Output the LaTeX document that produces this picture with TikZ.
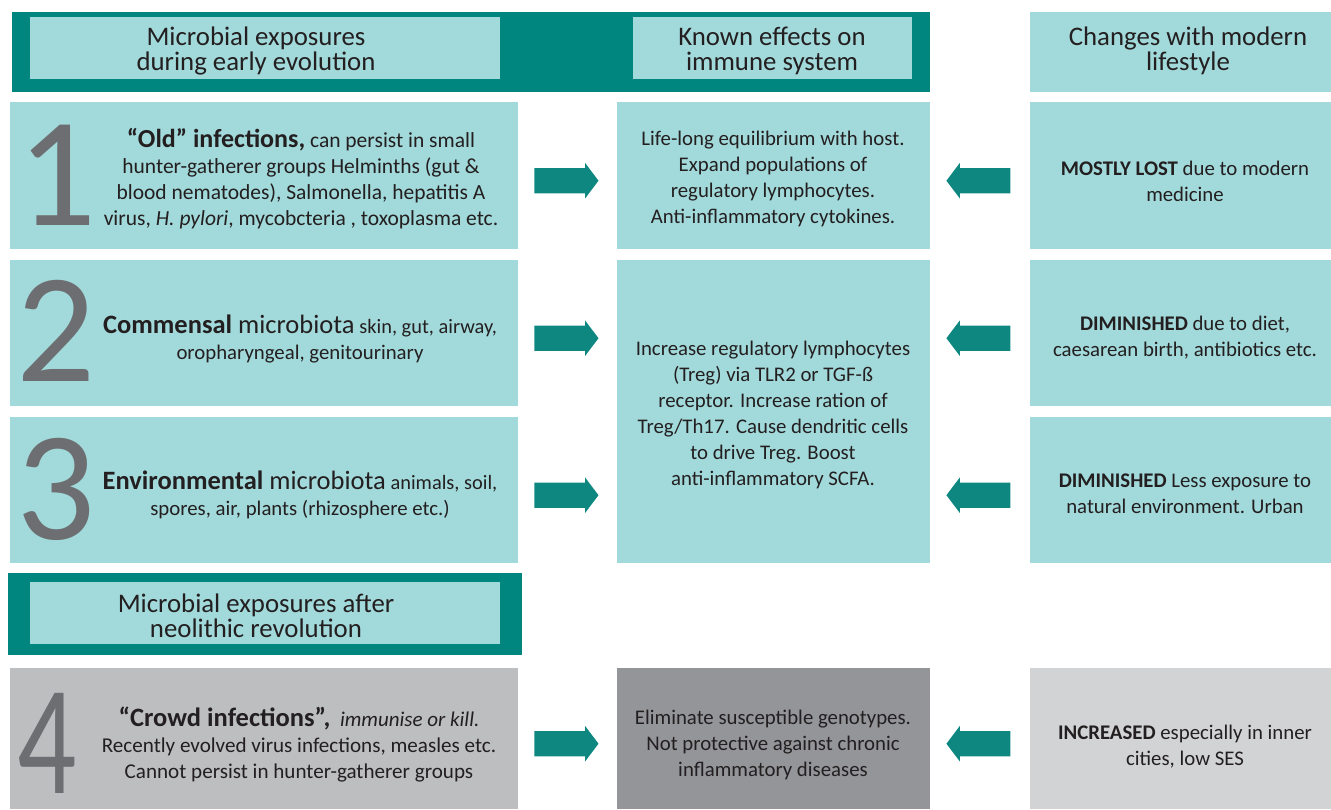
\documentclass[tikz,border=0pt]{standalone}
\usepackage{fontspec}
\setmainfont{Carlito}
\usetikzlibrary{shapes.arrows,calc}
\definecolor{darkteal}{HTML}{00857F}
\definecolor{paleteal}{HTML}{A2D9DA}
\definecolor{arrowteal}{HTML}{0E8780}
\definecolor{inkgray}{HTML}{231F20}
\definecolor{numgray}{HTML}{6D6E71}
\definecolor{stonegray}{HTML}{BCBEC0}
\definecolor{slategray}{HTML}{939598}
\definecolor{mistgray}{HTML}{D1D3D4}

\begin{document}
\begin{tikzpicture}[x=1pt,y=-1pt,
  bar/.style={fill=darkteal,inner sep=0pt,anchor=north west},
  box/.style={fill=paleteal,inner sep=0pt,anchor=north west},
  head/.style={align=center,text=inkgray,inner sep=0pt,
    font=\fontsize{26.8}{25.5}\selectfont},
  txt/.style={align=center,text=inkgray,inner sep=0pt,
    font=\fontsize{20.8}{26}\selectfont},
  note/.style={txt,font=\fontsize{20.8}{26}\selectfont},
  digit/.style={text=numgray,inner sep=0pt,font=\fontsize{156}{156}\selectfont},
  rarrow/.style={single arrow,fill=arrowteal,draw=none,inner xsep=0pt,
    inner ysep=12.5pt,minimum height=64pt,single arrow head extend=5pt,
    single arrow tip angle=106},
  larrow/.style={rarrow,shape border rotate=180}]
\useasboundingbox (0,0) rectangle (1331,809);

% headers
\node[bar,minimum width=918pt,minimum height=80pt] (bar1) at (12,12) {};
\node[box,minimum width=470pt,minimum height=62pt] (h1) at (30,17) {};
\node[box,minimum width=279pt,minimum height=62pt] (h2) at (633,17) {};
\node[box,minimum width=301pt,minimum height=80pt] (h3) at (1030,12) {};
\node[head] at (256,51) {Microbial exposures\\during early evolution};
\node[head] at (772,51) {Known effects on\\immune system};
\node[head] at (1188,51) {Changes with modern\\lifestyle};

% rows 1-3
\node[box,minimum width=508pt,minimum height=147pt] (l1) at (10,102) {};
\node[box,minimum width=508pt,minimum height=146pt] (l2) at (10,260) {};
\node[box,minimum width=508pt,minimum height=146pt] (l3) at (10,417) {};
\node[box,minimum width=313pt,minimum height=147pt] (m1) at (617,102) {};
\node[box,minimum width=313pt,minimum height=303pt] (m2) at (617,260) {};
\node[box,minimum width=301pt,minimum height=147pt] (r1) at (1030,102) {};
\node[box,minimum width=301pt,minimum height=146pt] (r2) at (1030,260) {};
\node[box,minimum width=301pt,minimum height=146pt] (r3) at (1030,417) {};

\node[digit] (n1) at (57,175) {1};
\node[digit] (n2) at (56,331) {2};
\node[digit] (n3) at (56,489) {3};

\node[txt,font=\fontsize{21.5}{26}\selectfont] (t1) at (301,179) {{\fontsize{26}{26}\selectfont\textbf{“Old” infections,}} can persist in small\\
  hunter-gatherer groups Helminths (gut \&\\
  blood nematodes), Salmonella, hepatitis A\\
  virus, \textit{H. pylori}, mycobcteria , toxoplasma etc.};
\node[txt] (t2) at (300,339) {{\fontsize{26.5}{26}\selectfont\textbf{Commensal} microbiota} {\fontsize{20.4}{26}\selectfont skin, gut, airway,}\\
  oropharyngeal, genitourinary};
\node[txt] (t3) at (300,495) {{\fontsize{26.5}{26}\selectfont\textbf{Environmental} microbiota} {\fontsize{20.4}{26}\selectfont animals, soil,}\\
  spores, air, plants (rhizosphere etc.)};

\node[note] (e1) at (773,179) {Life-long equilibrium with host.\\
  Expand populations of\\regulatory lymphocytes.\\Anti-inflammatory cytokines.};
\node[note] (e2) at (773,415) {Increase regulatory lymphocytes\\
  (Treg) via TLR2 or TGF-ß\\receptor. Increase ration of\\
  Treg/Th17. Cause dendritic cells\\to drive Treg. Boost\\
  anti-inflammatory SCFA.};

\node[note] (c1) at (1185,181) {\textbf{MOSTLY LOST} due to modern\\medicine};
\node[note] (c2) at (1185,338) {\textbf{DIMINISHED} due to diet,\\caesarean birth, antibiotics etc.};
\node[note] (c3) at (1185,494) {\textbf{DIMINISHED} Less exposure to\\natural environment. Urban};

% second header
\node[bar,minimum width=514pt,minimum height=82pt] (bar2) at (8,573) {};
\node[box,minimum width=470pt,minimum height=62pt] (h4) at (30,582) {};
\node[head] at (256,616) {Microbial exposures after\\neolithic revolution};

% row 4
\node[box,fill=stonegray,minimum width=508pt,minimum height=141pt] (l4) at (10,668) {};
\node[box,fill=slategray,minimum width=313pt,minimum height=141pt] (m4) at (617,668) {};
\node[box,fill=mistgray,minimum width=301pt,minimum height=141pt] (r4) at (1030,668) {};
\node[digit] (n4) at (47,743) {\scalebox{0.75}[1]{4}};
\node[txt,font=\fontsize{21.1}{26}\selectfont] (t4) at (299,745) {{\fontsize{26.5}{26}\selectfont\textbf{“Crowd infections”,}}\ \ {\fontsize{21}{26}\selectfont\textit{immunise or kill.}}\\
  Recently evolved virus infections, measles etc.\\
  Cannot persist in hunter-gatherer groups};
\node[note] (e4) at (773,745) {Eliminate susceptible genotypes.\\
  Not protective against chronic\\inflammatory diseases};
\node[note] (c4) at (1185,747) {\textbf{INCREASED} especially in inner\\cities, low SES};

% block arrows
\foreach \i in {1,2,3,4} {
  \node[rarrow] (ra\i) at ($(l\i.east)!0.5!(l\i.east -| m1.west)+(-6,5)$) {};
}
\node[larrow] (la1) at ($(m1.east)!0.5!(r1.west)+(3,5)$) {};
\node[larrow] (la2) at ($(r2.west -| m2.east)!0.5!(r2.west)+(3,5)$) {};
\node[larrow] (la3) at ($(r3.west -| m2.east)!0.5!(r3.west)+(3,5)$) {};
\node[larrow] (la4) at ($(m4.east)!0.5!(r4.west)+(3,5)$) {};
\end{tikzpicture}
\end{document}
